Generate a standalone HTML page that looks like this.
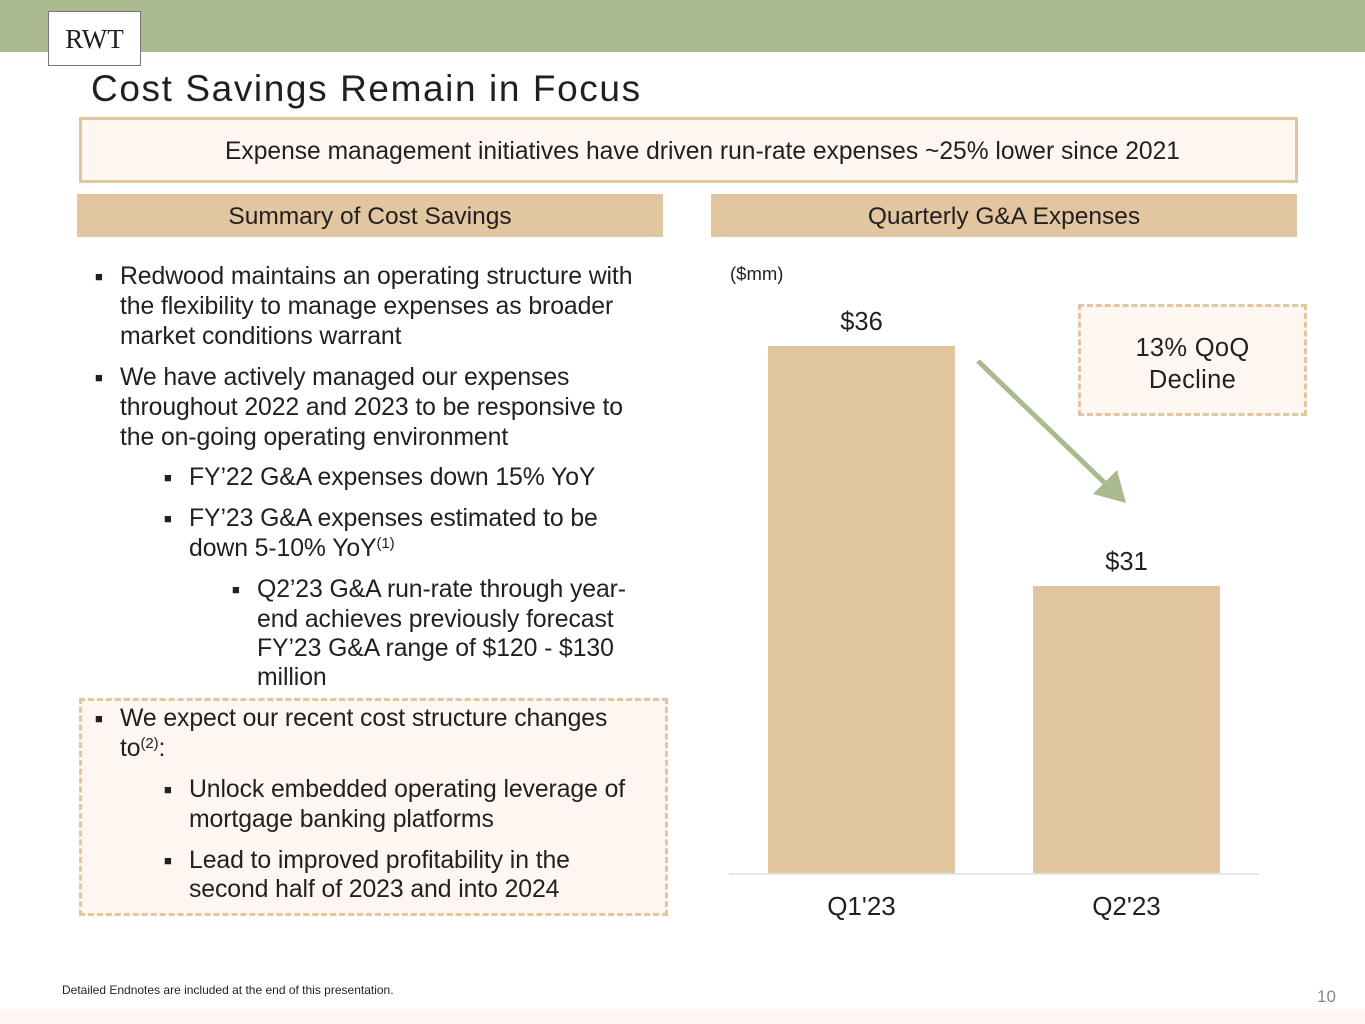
<!DOCTYPE html>
<html><head><style>
body{margin:0;width:1365px;height:1024px;position:relative;background:#fff;font-family:"Liberation Sans",sans-serif;color:#231f20;overflow:hidden}
.a{position:absolute;white-space:nowrap}
.l{position:absolute;white-space:nowrap;font-size:24.8px;line-height:26px;letter-spacing:-0.1px}
.b{position:absolute;font-size:13px;line-height:26px}
sup{font-size:15px;vertical-align:8px;line-height:0}
</style></head><body>
<div class="a" style="left:0;top:0;width:1365px;height:52px;background:#abb98f"></div>
<div class="a" style="left:48px;top:11px;width:93px;height:55px;background:#fff;border:1px solid #777;box-sizing:border-box;font-family:'Liberation Serif',serif;font-size:27px;text-align:center;line-height:54px">RWT</div>
<div class="a" style="left:91px;top:66px;font-size:37px;letter-spacing:1.6px;line-height:46px">Cost Savings Remain in Focus</div>
<div class="a" style="left:79px;top:117px;width:1219px;height:66px;box-sizing:border-box;border:3px solid #e2c6a0;background:#fef6f1;text-align:center;font-size:24.6px;line-height:64px;padding-left:28px">Expense management initiatives have driven run-rate expenses ~25% lower since 2021</div>
<div class="a" style="left:77px;top:194px;width:586px;height:43px;background:#e2c6a0;text-align:center;font-size:24.5px;line-height:45px">Summary of Cost Savings</div>
<div class="a" style="left:711px;top:194px;width:586px;height:43px;background:#e2c6a0;text-align:center;font-size:24.5px;line-height:45px">Quarterly G&amp;A Expenses</div>
<div class="a" style="left:79px;top:698px;width:589px;height:218px;box-sizing:border-box;border:3px dashed #e2c6a0;background:#fef6f1"></div>

<div class="b" style="left:95px;top:264px">■</div><div class="l" style="left:120px;top:264px">Redwood maintains an operating structure with</div>
<div class="l" style="left:120px;top:294px">the flexibility to manage expenses as broader</div>
<div class="l" style="left:120px;top:324px">market conditions warrant</div>
<div class="b" style="left:95px;top:365px">■</div><div class="l" style="left:120px;top:365px">We have actively managed our expenses</div>
<div class="l" style="left:120px;top:395px">throughout 2022 and 2023 to be responsive to</div>
<div class="l" style="left:120px;top:425px">the on-going operating environment</div>
<div class="b" style="left:164px;top:465px">■</div><div class="l" style="left:189px;top:465px">FY’22 G&amp;A expenses down 15% YoY</div>
<div class="b" style="left:164px;top:506px">■</div><div class="l" style="left:189px;top:506px">FY’23 G&amp;A expenses estimated to be</div>
<div class="l" style="left:189px;top:536px">down 5-10% YoY<sup>(1)</sup></div>
<div class="b" style="left:232px;top:577px">■</div><div class="l" style="left:257px;top:577px">Q2’23 G&amp;A run-rate through year-</div>
<div class="l" style="left:257px;top:607px">end achieves previously forecast</div>
<div class="l" style="left:257px;top:636px">FY’23 G&amp;A range of $120 - $130</div>
<div class="l" style="left:257px;top:665px">million</div>
<div class="b" style="left:95px;top:706px">■</div><div class="l" style="left:120px;top:706px">We expect our recent cost structure changes</div>
<div class="l" style="left:120px;top:736px">to<sup>(2)</sup>:</div>
<div class="b" style="left:164px;top:777px">■</div><div class="l" style="left:189px;top:777px">Unlock embedded operating leverage of</div>
<div class="l" style="left:189px;top:807px">mortgage banking platforms</div>
<div class="b" style="left:164px;top:848px">■</div><div class="l" style="left:189px;top:848px">Lead to improved profitability in the</div>
<div class="l" style="left:189px;top:877px">second half of 2023 and into 2024</div>

<div class="a" style="left:730px;top:263px;font-size:18.5px">($mm)</div>
<div class="a" style="left:768px;top:346px;width:187px;height:528px;background:#e2c6a0"></div>
<div class="a" style="left:1033px;top:586px;width:187px;height:288px;background:#e2c6a0"></div>
<div class="a" style="left:729px;top:873px;width:530px;height:2px;background:#e6e6e6"></div>
<div class="a" style="left:768px;top:308px;width:187px;text-align:center;font-size:25.5px">$36</div>
<div class="a" style="left:1033px;top:548px;width:187px;text-align:center;font-size:25.5px">$31</div>
<div class="a" style="left:768px;top:891px;width:187px;text-align:center;font-size:26px">Q1'23</div>
<div class="a" style="left:1033px;top:891px;width:187px;text-align:center;font-size:26px">Q2'23</div>
<div class="a" style="left:1078px;top:304px;width:229px;height:112px;box-sizing:border-box;border:3px dashed #e2c6a0;background:#fef6f1;text-align:center;font-size:25.5px;line-height:32px;padding-top:25px;letter-spacing:0.3px">13% QoQ<br>Decline</div>
<svg class="a" style="left:0;top:0" width="1365" height="1024"><line x1="978" y1="361" x2="1110" y2="488" stroke="#abb98f" stroke-width="5"/><polygon points="1126,503 1093,494 1117,470" fill="#abb98f"/></svg>
<div class="a" style="left:62px;top:983px;font-size:12px">Detailed Endnotes are included at the end of this presentation.</div>
<div class="a" style="left:1317px;top:987px;font-size:17px;color:#888">10</div>
<div class="a" style="left:0;top:1009px;width:1365px;height:15px;background:#fef6f1"></div>
</body></html>
